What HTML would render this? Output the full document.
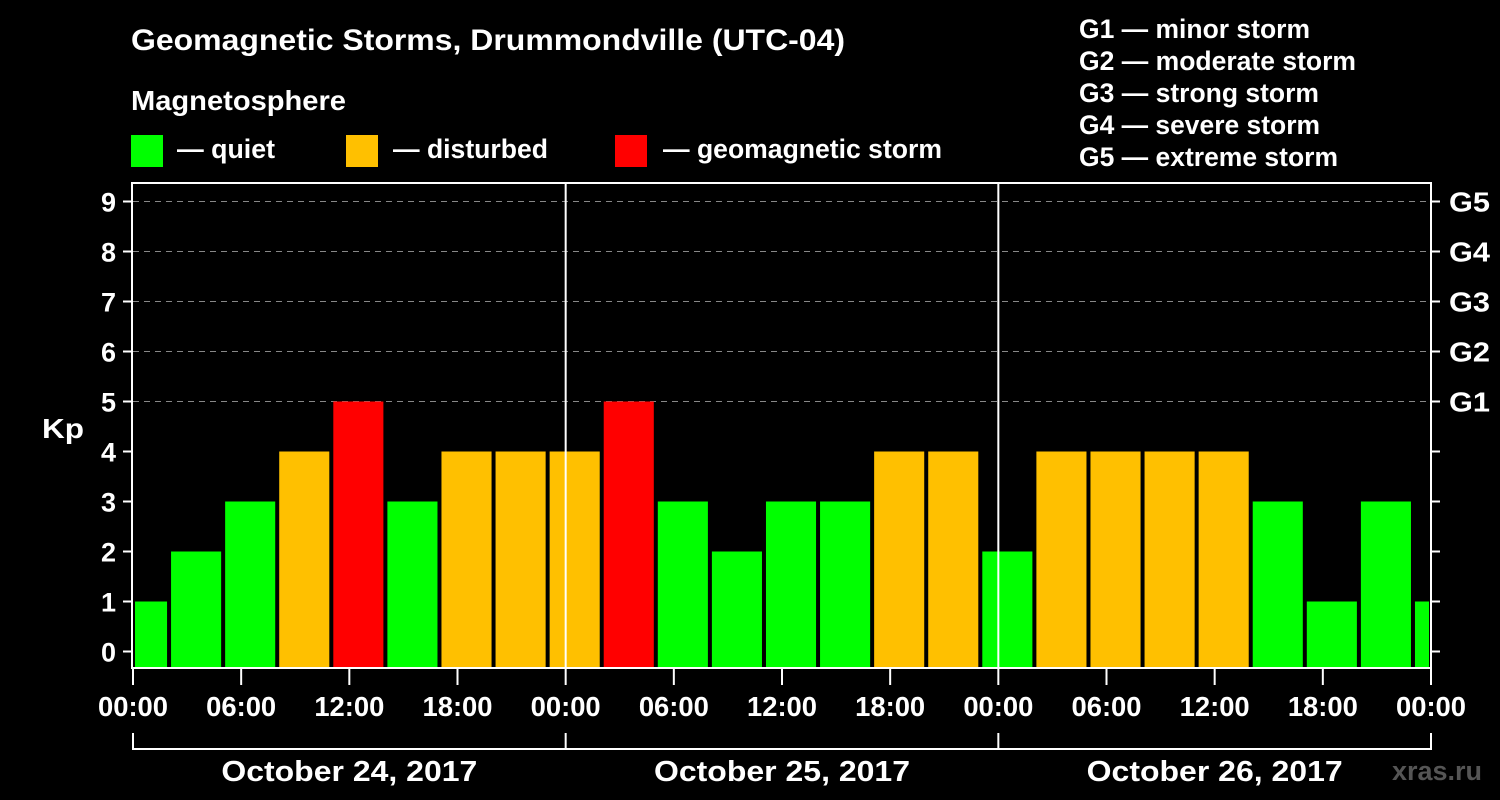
<!DOCTYPE html>
<html><head><meta charset="utf-8"><style>
body{margin:0;background:#000;}
svg{display:block;font-family:"Liberation Sans",sans-serif;font-weight:bold;}
</style></head><body>
<svg id="c" width="1500" height="800">
<text x="131" y="50" fill="#fff" font-size="30" textLength="714" lengthAdjust="spacingAndGlyphs">Geomagnetic Storms, Drummondville (UTC-04)</text>
<text x="131" y="110" fill="#fff" font-size="28" textLength="215" lengthAdjust="spacingAndGlyphs">Magnetosphere</text>
<g><rect x="131" y="135" width="32" height="32" fill="#00ff00"/><text x="177" y="158" fill="#fff" font-size="27" textLength="98" lengthAdjust="spacingAndGlyphs">— quiet</text></g>
<g><rect x="346" y="135" width="32" height="32" fill="#ffc000"/><text x="393" y="158" fill="#fff" font-size="27" textLength="155" lengthAdjust="spacingAndGlyphs">— disturbed</text></g>
<g><rect x="615" y="135" width="32" height="32" fill="#ff0000"/><text x="663" y="158" fill="#fff" font-size="27" textLength="279" lengthAdjust="spacingAndGlyphs">— geomagnetic storm</text></g>
<g fill="#fff" font-size="27">
<text x="1079" y="38" textLength="231" lengthAdjust="spacingAndGlyphs">G1 — minor storm</text>
<text x="1079" y="70" textLength="277" lengthAdjust="spacingAndGlyphs">G2 — moderate storm</text>
<text x="1079" y="102" textLength="240" lengthAdjust="spacingAndGlyphs">G3 — strong storm</text>
<text x="1079" y="134" textLength="241" lengthAdjust="spacingAndGlyphs">G4 — severe storm</text>
<text x="1079" y="166" textLength="259" lengthAdjust="spacingAndGlyphs">G5 — extreme storm</text>
</g>
<text x="42" y="438" fill="#fff" font-size="28" textLength="42" lengthAdjust="spacingAndGlyphs">Kp</text>
<text x="1392" y="780" fill="#555" font-size="27" textLength="90" lengthAdjust="spacingAndGlyphs">xras.ru</text>
<g id="g"></g>
</svg>
<script>
const startHours=[-1,2,5,8,11,14,17,20,23,26,29,32,35,38,41,44,47,50,53,56,59,62,65,68,71];
const kpValues=[1,2,3,4,5,3,4,4,4,5,3,2,3,3,4,4,2,4,4,4,4,3,1,3,1];
const yTicks=[0,1,2,3,4,5,6,7,8,9];
const gLabels=["G1","G2","G3","G4","G5"];
const xTickLabels=["00:00","06:00","12:00","18:00","00:00","06:00","12:00","18:00","00:00","06:00","12:00","18:00","00:00"];
const dayLabels=["October 24, 2017","October 25, 2017","October 26, 2017"];
const NS="http://www.w3.org/2000/svg";
const L=133,R=1431,T=183,B=668,H=72;
const x=h=>L+(R-L)*h/H;
const y=k=>651.5-50*k;
const g=document.getElementById('g');
function mk(t,a,p){const e=document.createElementNS(NS,t);for(const k in a)e.setAttribute(k,a[k]);(p||g).appendChild(e);return e;}
for(let k=5;k<=9;k++){const l=mk('line',{x1:L,x2:R,y1:y(k),y2:y(k),stroke:'#888','stroke-dasharray':'6,5'});

}
const col=v=>v>=5?'#ff0000':v>=4?'#ffc000':'#00ff00';
startHours.forEach((s,i)=>{const a=Math.max(x(s),L)+2,b=Math.min(x(s+3),R)-2;
const r=mk('rect',{x:a,y:y(kpValues[i]),width:b-a,height:B-y(kpValues[i]),fill:col(kpValues[i])});

});
[24,48].forEach(h=>{const l=mk('line',{x1:x(h),x2:x(h),y1:T,y2:B,stroke:'#fff','stroke-width':2});

});
const f=mk('rect',{x:L-1,y:T,width:R-L+1,height:B-T,fill:'none',stroke:'#fff','stroke-width':2});


yTicks.forEach(k=>{mk('line',{x1:L-10,x2:L,y1:y(k),y2:y(k),stroke:'#fff','stroke-width':2});
mk('line',{x1:R,x2:R+9,y1:y(k),y2:y(k),stroke:'#fff','stroke-width':2});
const t=mk('text',{x:L-17,y:y(k)+10,fill:'#fff','font-size':27,'text-anchor':'end'});t.textContent=k;

});
gLabels.forEach((s,i)=>{const t=mk('text',{x:1449,y:y(5+i)+10,fill:'#fff','font-size':28,textLength:41,lengthAdjust:'spacingAndGlyphs'});t.textContent=s;

});
xTickLabels.forEach((s,i)=>{const xx=x(i*6);
mk('line',{x1:xx,x2:xx,y1:B,y2:B+17,stroke:'#fff','stroke-width':2});
const t=mk('text',{x:xx-35,y:716,fill:'#fff','font-size':28,textLength:70,lengthAdjust:'spacingAndGlyphs'});t.textContent=s;

});
mk('line',{x1:L,x2:R,y1:749,y2:749,stroke:'#fff','stroke-width':2});
[0,24,48,72].forEach(h=>mk('line',{x1:x(h),x2:x(h),y1:733,y2:750,stroke:'#fff','stroke-width':2}));
dayLabels.forEach((s,i)=>{const t=mk('text',{x:x(i*24+12)-128,y:781,fill:'#fff','font-size':29,textLength:256,lengthAdjust:'spacingAndGlyphs'});t.textContent=s;

});
</script>
</body></html>
